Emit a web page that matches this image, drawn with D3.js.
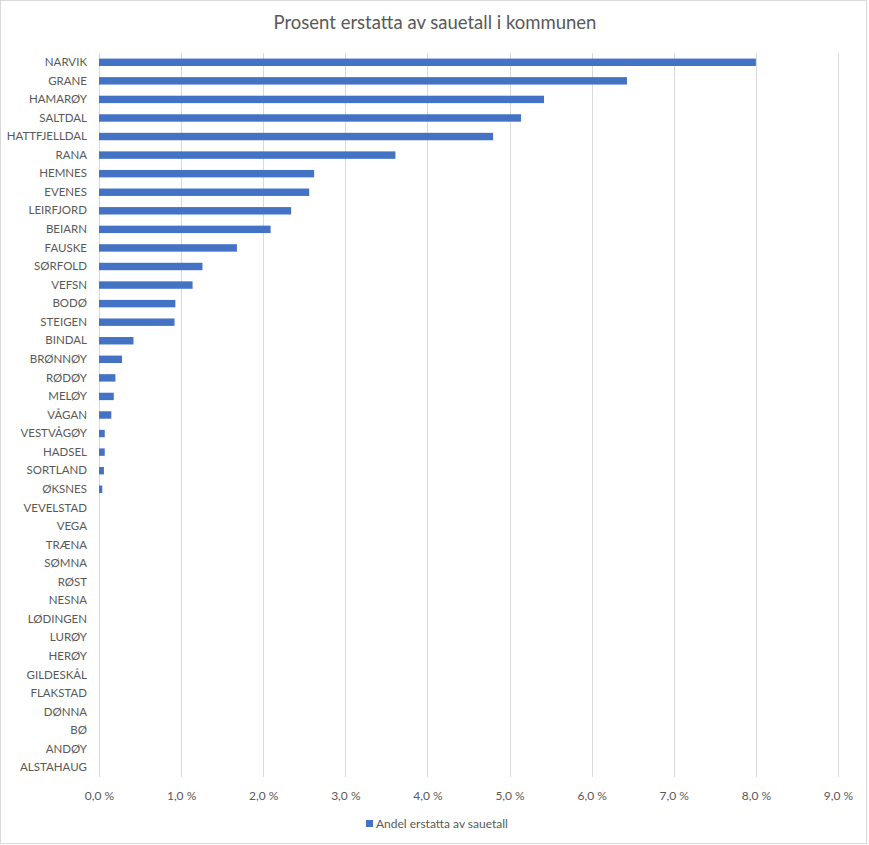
<!DOCTYPE html>
<html>
<head>
<meta charset="utf-8">
<script src="https://cdn.jsdelivr.net/npm/d3@7"></script>
<style>
  body { margin: 0; background: #fff; }
  text { font-family: Lato, "Liberation Sans", sans-serif; fill: #595959; }
</style>
</head>
<body>
<script>
// data, top to bottom as in the chart
var kommuner = ["NARVIK", "GRANE", "HAMARØY", "SALTDAL", "HATTFJELLDAL", "RANA", "HEMNES", "EVENES",
  "LEIRFJORD", "BEIARN", "FAUSKE", "SØRFOLD", "VEFSN", "BODØ", "STEIGEN", "BINDAL", "BRØNNØY",
  "RØDØY", "MELØY", "VÅGAN", "VESTVÅGØY", "HADSEL", "SORTLAND", "ØKSNES", "VEVELSTAD", "VEGA",
  "TRÆNA", "SØMNA", "RØST", "NESNA", "LØDINGEN", "LURØY", "HERØY", "GILDESKÅL", "FLAKSTAD",
  "DØNNA", "BØ", "ANDØY", "ALSTAHAUG"];
var andel = [8.00, 6.43, 5.42, 5.14, 4.80, 3.61, 2.62, 2.56,
  2.34, 2.09, 1.68, 1.26, 1.14, 0.93, 0.92, 0.42, 0.28,
  0.20, 0.18, 0.15, 0.07, 0.07, 0.06, 0.04, 0, 0,
  0, 0, 0, 0, 0, 0, 0, 0, 0,
  0, 0, 0, 0];
var xTicks = [0, 1, 2, 3, 4, 5, 6, 7, 8, 9];
var title = "Prosent erstatta av sauetall i kommunen";
var seriesName = "Andel erstatta av sauetall";

var svgWidth = 869;
var svgHeight = 845;
var margin = {top: 53, right: 31, bottom: 68, left: 99};
var width = svgWidth - margin.left - margin.right;
var height = svgHeight - margin.top - margin.bottom;

var svg = d3.select("body").append("svg")
  .attr("width", svgWidth)
  .attr("height", svgHeight);

// chart frame
svg.append("rect")
  .attr("x", 0.5).attr("y", 0.5)
  .attr("width", svgWidth - 3).attr("height", svgHeight - 2)
  .attr("fill", "#fff")
  .attr("stroke", "#d9d9d9");

svg.append("text")
  .attr("x", 435).attr("y", 29)
  .attr("text-anchor", "middle")
  .style("font-size", "18.5px")
  .text(title);

var g = svg.append("g")
  .attr("transform", "translate(" + margin.left + "," + margin.top + ")");

var xScale = d3.scaleLinear().domain([0, 9]).range([0, width]);
var yScale = d3.scaleBand().domain(kommuner).range([0, height]).paddingInner(0.6).paddingOuter(0.3);

// gridlines
g.append("g")
  .selectAll("line")
  .data(xTicks)
  .join("line")
    .attr("x1", function(d){ return Math.round(xScale(d)) + 0.5; })
    .attr("x2", function(d){ return Math.round(xScale(d)) + 0.5; })
    .attr("y1", 0)
    .attr("y2", height)
    .attr("stroke", "#d9d9d9")
    .attr("stroke-width", 1);

// x labels
var fmt = function(d){ return d3.format(".1f")(d).replace(".", ",") + " %"; };
var xAxis = g.append("g")
  .attr("transform", "translate(0," + height + ")")
  .call(d3.axisBottom(xScale).tickValues(xTicks).tickFormat(fmt).tickSize(0).tickPadding(14));
xAxis.select(".domain").remove();
xAxis.selectAll("text").style("font-size", "12px").attr("fill", "#595959");

// y labels
var yAxis = g.append("g")
  .call(d3.axisLeft(yScale).tickSize(0).tickPadding(12));
yAxis.select(".domain").remove();
yAxis.selectAll("text").style("font-size", "11.5px").attr("fill", "#595959");

// bars
g.append("g")
  .selectAll("rect")
  .data(kommuner)
  .join("rect")
    .attr("x", xScale(0))
    .attr("y", function(d){ return yScale(d); })
    .attr("width", function(d, i){ return xScale(andel[i]) - xScale(0); })
    .attr("height", yScale.bandwidth())
    .attr("fill", "#4472c4");

// legend
var legend = svg.append("g").attr("transform", "translate(366,824)");
legend.append("rect")
  .attr("x", 0).attr("y", -4)
  .attr("width", 7).attr("height", 7)
  .attr("fill", "#4472c4");
legend.append("text")
  .attr("x", 10).attr("y", 4)
  .style("font-size", "12px")
  .text(seriesName);
</script>
</body>
</html>
